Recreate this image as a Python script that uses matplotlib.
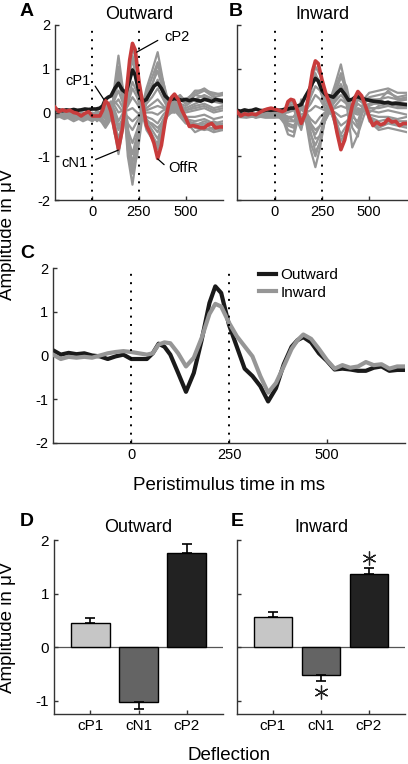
import numpy as np
import matplotlib.pyplot as plt

plt.rcParams['font.family'] = ['Liberation Sans', 'DejaVu Sans']
plt.rcParams['axes.unicode_minus'] = False

# time axis of the grand-average curves (ms)
t_mean = [-200, -180, -160, -140, -120, -100, -80, -60, -40, -20, 0, 20, 40, 55, 70, 85,
          100, 120, 140, 160, 180, 200, 215, 230, 250, 270, 290, 310, 330, 350, 370, 390,
          410, 425, 440, 460, 480, 500, 520, 540, 560, 580, 600, 620, 640, 660, 680, 700]

# peak electrode, outward / inward (red in A/B, curves in C)
outward = [0.12, 0.02, 0.06, 0.03, 0.05, 0.0, -0.02, -0.08, -0.02, 0.02, -0.08, -0.08, -0.08, 0.05, 0.27, 0.2,
           0.02, -0.4, -0.83, -0.4, 0.35, 1.2, 1.58, 1.43, 0.7, 0.2, -0.3, -0.47, -0.7, -1.05, -0.75, -0.2,
           0.2, 0.35, 0.42, 0.3, 0.05, -0.12, -0.32, -0.3, -0.32, -0.35, -0.35, -0.28, -0.25, -0.35, -0.33, -0.33]
inward = [0.02, -0.08, -0.03, -0.05, -0.03, -0.05, 0.0, 0.05, 0.08, 0.1, 0.08, 0.05, 0.02, 0.05, 0.25, 0.3,
          0.28, 0.05, -0.25, -0.05, 0.4, 0.95, 1.18, 1.12, 0.75, 0.44, 0.21, -0.02, -0.47, -0.85, -0.63, -0.25,
          0.15, 0.35, 0.48, 0.38, 0.15, -0.1, -0.3, -0.22, -0.28, -0.25, -0.15, -0.22, -0.2, -0.3, -0.25, -0.25]

# global field power (black in A/B)
gfp_out = [0.05, 0.06, 0.04, 0.06, 0.05, 0.07, 0.05, 0.06, 0.08, 0.07, 0.08, 0.08, 0.1, 0.15, 0.3, 0.35,
           0.38, 0.55, 0.67, 0.52, 0.45, 0.75, 0.97, 0.85, 0.45, 0.25, 0.3, 0.45, 0.6, 0.67, 0.55, 0.38,
           0.3, 0.3, 0.32, 0.3, 0.28, 0.3, 0.27, 0.3, 0.28, 0.26, 0.3, 0.28, 0.25, 0.3, 0.28, 0.26]
gfp_in = [0.05, 0.03, 0.06, 0.04, 0.05, 0.08, 0.05, 0.04, 0.06, 0.05, 0.06, 0.05, 0.06, 0.08, 0.08, 0.1,
          0.1, 0.15, 0.18, 0.35, 0.5, 0.68, 0.78, 0.72, 0.5, 0.4, 0.38, 0.35, 0.45, 0.53, 0.42, 0.28,
          0.3, 0.35, 0.36, 0.32, 0.3, 0.28, 0.26, 0.25, 0.24, 0.22, 0.23, 0.2, 0.21, 0.2, 0.19, 0.18]

# single channels (gray traces)
t_chan = [-200, -150, -100, -50, 0, 25, 50, 70, 100, 120, 140, 165, 190, 215,
          240, 265, 290, 320, 350, 380, 410, 440, 470, 500, 550, 600, 650, 700]
chans_out = [
    [0.05, 0.0, -0.05, -0.1, -0.1, -0.05, 0.05, 0.2, 0.0, -0.45, -0.95, -0.35, 0.7, 1.5, 1.1, 0.25, -0.3, -0.55, -0.85, -0.4, 0.1, 0.3, 0.1, -0.1, -0.35, -0.4, -0.35, -0.4],
    [-0.05, 0.05, -0.1, -0.05, -0.15, -0.1, 0.0, 0.15, 0.05, -0.35, -0.8, -0.3, 0.6, 1.3, 0.95, 0.2, -0.25, -0.5, -0.75, -0.3, 0.05, 0.25, 0.05, -0.15, -0.3, -0.25, -0.4, -0.35],
    [0.0, -0.1, 0.0, -0.12, -0.05, -0.15, -0.05, 0.1, 0.1, -0.25, -0.6, -0.2, 0.45, 1.0, 0.7, 0.15, -0.2, -0.4, -0.6, -0.25, 0.0, 0.15, 0.0, -0.2, -0.25, -0.3, -0.2, -0.3],
    [-0.1, -0.05, -0.15, -0.05, -0.1, 0.0, -0.1, 0.05, 0.15, -0.1, -0.4, -0.1, 0.3, 0.7, 0.45, 0.05, -0.15, -0.3, -0.45, -0.15, 0.05, 0.1, -0.05, -0.15, -0.2, -0.15, -0.25, -0.2],
    [0.05, -0.08, 0.02, -0.1, 0.0, -0.05, 0.02, 0.1, 0.2, 0.05, -0.2, 0.0, 0.15, 0.35, 0.2, 0.0, -0.1, -0.15, -0.25, -0.05, 0.1, 0.05, 0.0, -0.1, -0.1, -0.05, -0.15, -0.1],
    [-0.05, 0.02, -0.05, 0.0, -0.08, 0.05, -0.05, 0.0, 0.25, 0.15, 0.0, 0.05, 0.05, 0.1, 0.0, -0.05, 0.0, 0.0, -0.05, 0.05, 0.1, 0.0, 0.05, 0.0, 0.05, 0.1, 0.0, 0.05],
    [0.0, -0.1, -0.02, -0.15, -0.05, -0.1, -0.12, -0.1, 0.15, 0.2, 0.3, 0.1, -0.25, -0.4, -0.2, 0.0, 0.1, 0.2, 0.3, 0.15, 0.0, 0.0, 0.1, 0.05, 0.15, 0.2, 0.1, 0.15],
    [-0.08, -0.02, -0.12, -0.05, -0.12, -0.15, -0.05, -0.15, 0.1, 0.3, 0.5, 0.2, -0.4, -0.7, -0.4, -0.05, 0.2, 0.35, 0.55, 0.3, 0.05, 0.1, 0.15, 0.1, 0.2, 0.3, 0.25, 0.2],
    [0.02, -0.12, -0.05, -0.18, -0.08, -0.05, -0.15, -0.2, 0.0, 0.4, 0.7, 0.3, -0.55, -0.95, -0.5, 0.0, 0.3, 0.5, 0.75, 0.4, 0.05, 0.15, 0.2, 0.15, 0.3, 0.4, 0.3, 0.3],
    [-0.1, -0.05, -0.15, -0.08, -0.15, -0.1, -0.2, -0.25, -0.05, 0.5, 0.9, 0.35, -0.7, -1.15, -0.6, 0.05, 0.4, 0.65, 0.95, 0.5, 0.1, 0.2, 0.3, 0.2, 0.4, 0.5, 0.35, 0.4],
    [-0.05, -0.15, -0.08, -0.2, -0.1, -0.18, -0.1, -0.3, -0.1, 0.55, 1.05, 0.4, -0.85, -1.4, -0.75, 0.1, 0.45, 0.8, 1.15, 0.6, 0.15, 0.25, 0.35, 0.3, 0.45, 0.55, 0.4, 0.45],
    [-0.12, -0.08, -0.2, -0.1, -0.2, -0.12, -0.22, -0.35, -0.15, 0.65, 1.3, 0.5, -1.0, -1.65, -0.9, 0.1, 0.55, 0.95, 1.38, 0.7, 0.1, 0.3, 0.4, 0.25, 0.5, 0.5, 0.45, 0.4],
    [0.08, -0.05, 0.0, -0.08, -0.1, -0.1, 0.0, 0.2, -0.05, -0.5, -0.7, -0.1, 0.8, 1.2, 0.7, 0.0, -0.4, -0.6, -0.7, -0.25, 0.05, 0.2, 0.0, -0.2, -0.45, -0.35, -0.45, -0.4],
    [-0.1, -0.1, -0.05, -0.15, -0.05, -0.2, -0.1, -0.1, 0.05, 0.35, 0.8, 0.55, -0.3, -1.3, -1.0, -0.2, 0.25, 0.6, 1.1, 0.7, 0.2, 0.3, 0.35, 0.2, 0.4, 0.35, 0.3, 0.25],
    [-0.02, 0.0, -0.08, -0.12, -0.02, -0.08, -0.08, 0.15, 0.25, 0.0, -0.3, -0.15, 0.2, 0.55, 0.35, 0.0, -0.2, -0.25, -0.35, -0.2, -0.05, 0.05, -0.1, -0.25, -0.3, -0.2, -0.3, -0.25],
    [0.03, -0.06, -0.1, -0.06, -0.12, -0.02, -0.1, -0.05, 0.2, 0.25, 0.15, 0.0, -0.1, -0.2, -0.1, 0.05, 0.05, 0.1, 0.15, 0.1, 0.15, 0.1, 0.15, 0.05, 0.1, 0.15, 0.05, 0.1],
]
chans_in = [
    [0.0, -0.05, -0.08, 0.02, 0.05, 0.02, 0.0, 0.2, 0.25, 0.0, -0.3, 0.0, 0.6, 1.05, 0.85, 0.35, 0.15, -0.3, -0.8, -0.45, 0.1, 0.4, 0.25, -0.15, -0.35, -0.25, -0.3, -0.35],
    [0.05, -0.02, -0.1, 0.0, 0.02, 0.05, -0.02, 0.15, 0.2, -0.05, -0.35, -0.05, 0.5, 0.85, 0.7, 0.3, 0.1, -0.25, -0.65, -0.4, 0.05, 0.3, 0.2, -0.1, -0.3, -0.2, -0.25, -0.3],
    [-0.05, 0.0, -0.05, 0.02, 0.0, -0.02, 0.0, 0.1, 0.15, 0.0, -0.25, 0.0, 0.35, 0.6, 0.5, 0.2, 0.05, -0.2, -0.5, -0.3, 0.0, 0.2, 0.1, -0.1, -0.2, -0.15, -0.2, -0.2],
    [0.02, -0.05, -0.02, -0.02, 0.03, 0.0, -0.05, 0.05, 0.1, 0.05, -0.15, 0.05, 0.2, 0.4, 0.3, 0.1, 0.0, -0.1, -0.3, -0.2, -0.05, 0.1, 0.05, -0.05, -0.1, -0.1, -0.15, -0.1],
    [-0.02, 0.02, -0.08, 0.0, -0.02, 0.02, 0.0, 0.0, 0.05, 0.05, -0.05, 0.0, 0.05, 0.15, 0.1, 0.05, 0.05, 0.0, -0.1, -0.05, 0.0, 0.05, 0.05, 0.05, 0.0, 0.05, 0.0, -0.05],
    [0.0, -0.04, -0.05, -0.05, 0.0, -0.05, -0.05, -0.1, -0.1, 0.0, 0.1, 0.0, -0.15, -0.25, -0.1, 0.0, 0.05, 0.1, 0.15, 0.1, 0.05, 0.0, 0.1, 0.1, 0.1, 0.15, 0.1, 0.1],
    [-0.05, -0.08, -0.1, -0.05, -0.05, -0.08, -0.1, -0.2, -0.2, -0.05, 0.1, -0.05, -0.35, -0.5, -0.3, -0.05, 0.1, 0.25, 0.4, 0.25, 0.0, -0.05, 0.15, 0.2, 0.2, 0.25, 0.2, 0.2],
    [-0.03, -0.1, -0.06, -0.1, -0.08, -0.1, -0.15, -0.3, -0.35, -0.1, 0.2, -0.1, -0.5, -0.75, -0.5, -0.1, 0.15, 0.4, 0.65, 0.35, -0.1, -0.2, 0.2, 0.3, 0.3, 0.35, 0.3, 0.3],
    [-0.08, -0.05, -0.12, -0.08, -0.1, -0.12, -0.2, -0.4, -0.45, -0.15, 0.25, -0.15, -0.7, -1.0, -0.65, -0.1, 0.2, 0.55, 0.9, 0.4, -0.2, -0.35, 0.25, 0.35, 0.4, 0.45, 0.35, 0.4],
    [-0.1, -0.12, -0.08, -0.12, -0.12, -0.1, -0.25, -0.5, -0.55, -0.2, 0.3, -0.2, -0.85, -1.25, -0.8, -0.15, 0.25, 0.65, 1.1, 0.5, -0.35, -0.55, 0.3, 0.45, 0.5, 0.55, 0.45, 0.45],
    [-0.05, -0.1, -0.05, -0.02, -0.05, -0.1, -0.1, -0.25, -0.3, -0.2, 0.1, -0.05, -0.45, -0.9, -0.7, -0.2, 0.0, 0.3, 0.55, 0.2, -0.8, -0.5, -0.1, 0.2, 0.3, 0.2, 0.25, 0.3],
    [0.03, -0.03, -0.1, 0.02, 0.0, -0.05, -0.08, -0.15, -0.1, 0.05, 0.25, 0.05, -0.25, -0.6, -0.55, -0.2, 0.05, 0.45, 0.8, 0.6, 0.0, -0.3, 0.05, 0.15, 0.25, 0.5, 0.3, 0.35],
    [0.0, 0.0, -0.12, 0.05, 0.05, 0.0, 0.02, 0.2, 0.1, -0.2, -0.4, 0.1, 0.45, 0.9, 0.6, 0.1, 0.1, -0.1, -0.55, -0.5, -0.1, 0.3, 0.3, -0.2, -0.4, -0.35, -0.4, -0.45],
    [-0.06, -0.02, -0.08, -0.06, -0.05, -0.03, -0.08, -0.1, -0.2, -0.15, -0.1, -0.2, -0.25, -0.4, -0.3, -0.1, 0.0, 0.15, 0.3, 0.2, 0.1, 0.05, 0.1, 0.0, 0.15, 0.2, 0.15, 0.15],
]

# bar panels
deflections = ['cP1', 'cN1', 'cP2']
amp_out = [0.45, -1.02, 1.75]
err_out = [0.09, 0.14, 0.17]
amp_in = [0.56, -0.53, 1.37]
err_in = [0.09, 0.10, 0.10]
sig_in = [False, True, True]
bar_colors = ['#c6c6c6', '#646464', '#222222']

RED = '#c83c3c'
GRAY = '#969696'
W, H = 408, 764


def box(l, t, r, b):
    return [l / W, 1 - b / H, (r - l) / W, (b - t) / H]


def style(ax, size):
    for s in ['top', 'right']:
        ax.spines[s].set_visible(False)
    for s in ['left', 'bottom']:
        ax.spines[s].set_linewidth(1.0)
        ax.spines[s].set_color('#333333')
    ax.tick_params(direction='in', length=3, width=1, labelsize=size, color='#333333')


def erp_panel(ax, chans, gfp, peak, title, show_y):
    for ch in chans:
        ax.plot(t_chan, ch, color=GRAY, lw=1.6, zorder=1)
    ax.plot(t_mean, gfp, color='#1a1a1a', lw=2.6, zorder=2)
    ax.plot(t_mean, peak, color=RED, lw=2.6, zorder=3)
    for x in [0, 250]:
        ax.axvline(x, color='k', ls=(0, (1, 3.3)), lw=1.4, zorder=4)
    ax.set_xlim(-200, 700)
    ax.set_ylim(-2, 2)
    ax.set_xticks([0, 250, 500])
    ax.set_yticks([-2, -1, 0, 1, 2])
    style(ax, 10.5)
    if not show_y:
        ax.set_yticklabels([])
    ax.set_title(title, fontsize=13, pad=4)


def bar_panel(ax, amp, err, title, show_y, sig=None):
    x = np.arange(1, len(amp) + 1)
    ax.axhline(0, color='#555555', lw=0.9, zorder=1)
    ax.bar(x, amp, width=0.8, color=bar_colors, edgecolor='k', lw=1.0, zorder=2)
    amp = np.array(amp)
    err = np.array(err)
    lo = np.where(amp < 0, err, 0)
    hi = np.where(amp > 0, err, 0)
    ax.errorbar(x, amp, yerr=[lo, hi], fmt='none', ecolor='k', elinewidth=1.2,
                capsize=3.5, capthick=1.2, zorder=3)
    if sig is not None:
        for xi, a, e, s in zip(x, amp, err, sig):
            if s:
                ax.plot(xi, a + np.sign(a) * (e + 0.2), marker=(6, 2, 0), ms=10,
                        mew=0.9, color='#222222', zorder=4)
    ax.set_xlim(0.25, 3.75)
    ax.set_ylim(-1.25, 2)
    ax.set_xticks(x)
    ax.set_xticklabels(deflections)
    ax.set_yticks([-1, 0, 1, 2])
    style(ax, 11)
    if not show_y:
        ax.set_yticklabels([])
    ax.set_title(title, fontsize=13, pad=6)


fig = plt.figure(figsize=(W / 100, H / 100), dpi=100)

axA = fig.add_axes(box(55, 25, 223, 200))
erp_panel(axA, chans_out, gfp_out, outward, 'Outward', True)
kw = dict(fontsize=10.5, va='center')
axA.annotate('cP1', xy=(63, 0.29), xytext=(-8, 0.72), ha='right',
             arrowprops=dict(arrowstyle='-', color='k', lw=0.9, relpos=(1, 0.6), shrinkA=2, shrinkB=0), **kw)
axA.annotate('cN1', xy=(139, -0.86), xytext=(-25, -1.15), ha='right',
             arrowprops=dict(arrowstyle='-', color='k', lw=0.9, relpos=(1, 0.5), shrinkA=4, shrinkB=0), **kw)
axA.annotate('cP2', xy=(238, 1.38), xytext=(385, 1.73), ha='left',
             arrowprops=dict(arrowstyle='-', color='k', lw=0.9, relpos=(0, 0.5), shrinkA=3, shrinkB=0), **kw)
axA.annotate('OffR', xy=(350, -1.06), xytext=(405, -1.27), ha='left',
             arrowprops=dict(arrowstyle='-', color='k', lw=0.9, relpos=(0, 0.5), shrinkA=1, shrinkB=0), **kw)

axB = fig.add_axes(box(237, 25, 407, 200))
erp_panel(axB, chans_in, gfp_in, inward, 'Inward', False)

axC = fig.add_axes(box(53, 268, 405, 443))
axC.plot(t_mean, outward, color='#1a1a1a', lw=3, label='Outward', zorder=2)
axC.plot(t_mean, inward, color=GRAY, lw=3, label='Inward', zorder=3)
for x in [0, 250]:
    axC.axvline(x, color='k', ls=(0, (1, 3.3)), lw=1.4, zorder=4)
axC.set_xlim(-200, 700)
axC.set_ylim(-2, 2)
axC.set_xticks([0, 250, 500])
axC.set_yticks([-2, -1, 0, 1, 2])
style(axC, 10.5)
axC.legend(loc='upper left', bbox_to_anchor=(0.585, 1.0), frameon=False, fontsize=11,
           handlelength=1.1, handletextpad=0.3, borderpad=0, borderaxespad=0, labelspacing=0.25)

axD = fig.add_axes(box(54, 540, 223, 714))
bar_panel(axD, amp_out, err_out, 'Outward', True)
axE = fig.add_axes(box(237, 540, 405, 714))
bar_panel(axE, amp_in, err_in, 'Inward', False, sig_in)

fig.text(8 / W, 1 - 234 / H, 'Amplitude in μV', rotation=90, ha='center', va='center', fontsize=13.5)
fig.text(8 / W, 1 - 627 / H, 'Amplitude in μV', rotation=90, ha='center', va='center', fontsize=13.5)
fig.text(229 / W, 1 - 485 / H, 'Peristimulus time in ms', ha='center', va='center', fontsize=13.5)
fig.text(229 / W, 1 - 755 / H, 'Deflection', ha='center', va='center', fontsize=13.5)

for letter, (px, py) in zip('ABCDE', [(27, 12), (236, 12), (27, 253), (27, 522), (237, 522)]):
    fig.text(px / W, 1 - py / H, letter, ha='center', va='center', fontsize=14, fontweight='bold')

fig.savefig('out.png', dpi=100)
